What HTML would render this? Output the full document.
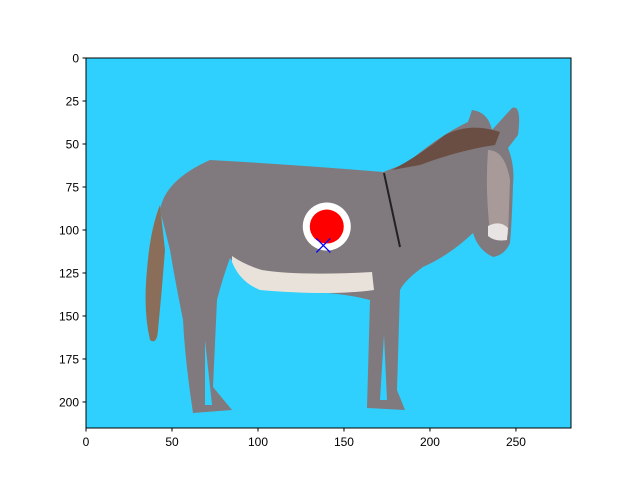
<!DOCTYPE html>
<html><head><meta charset="utf-8"><style>
html,body{margin:0;padding:0;background:#fff;}
svg{display:block;font-family:"Liberation Sans","DejaVu Sans",sans-serif;}
</style></head><body>
<svg id="chart" width="640" height="480">
<defs><clipPath id="clip"><rect x="86" y="58" width="485" height="370"/></clipPath></defs>
<g clip-path="url(#clip)">
<rect x="86" y="58" width="485" height="370" fill="#2fd0fd"/>
<path fill="#8a6e5a" d="M160,205 Q150,230 147,270 Q143,310 150,340 Q157,345 158,330 Q162,290 165,250 Z"/>
<path fill="#807a7e" d="M160,210 Q165,180 210,160 Q300,165 383,172 L407,163 Q440,135 468,122 L472,110 Q488,112 492,130 L512,108 Q522,104 518,135 L508,148 Q515,165 513,185 Q512,220 510,243 Q505,255 493,257 Q478,250 473,233 Q450,255 423,267 Q405,280 400,290 L397,390 L405,410 L367,408 L370,300 Q340,292 300,292 Q257,290 240,270 L230,258 Q222,280 217,300 L213,387 L232,410 L193,413 Q185,360 183,320 Q175,280 170,250 Z"/>
<path fill="#2fd0fd" d="M384,335 L380,400 L387,400 Z"/>
<path fill="#2fd0fd" d="M205,340 L205,405 L212,405 Z"/>
<path fill="#e8e2da" d="M232,256 Q245,265 262,270 Q300,276 372,272 L374,290 Q330,296 260,290 Q240,282 232,262 Z"/>
<path fill="#6a4e44" d="M392,170 Q420,155 445,135 Q470,122 500,132 L495,145 Q460,150 420,165 Z"/>
<path fill="#a89a98" d="M488,150 Q505,150 510,180 L508,235 L490,232 Q485,190 488,150 Z"/>
<path fill="#e8e4e4" d="M488,226 Q500,220 508,228 L507,240 Q495,242 488,236 Z"/>
<path stroke="#222" stroke-width="2" fill="none" d="M384,173 Q392,210 400,247"/>
</g>
<g id="marks"></g>
<rect x="86" y="58" width="485" height="370" fill="none" stroke="#000" stroke-width="1"/>
<g id="xticks"></g><g id="yticks"></g>
</svg>
<script>
const xTicks=[0,50,100,150,200,250];
const yTicks=[0,25,50,75,100,125,150,175,200];
const dotPoint=[140,98];
const crossPoint=[138,109];
const X0=86,Y0=58,S=485/282;
const sx=v=>X0+v*S, sy=v=>Y0+v*S;
const NS="http://www.w3.org/2000/svg";
function mk(t,a,p){const e=document.createElementNS(NS,t);for(const k in a)e.setAttribute(k,a[k]);p.appendChild(e);return e;}
const xt=document.getElementById('xticks'),yt=document.getElementById('yticks'),mg=document.getElementById('marks');
xTicks.forEach(v=>{const x=sx(v);
mk('line',{x1:x,x2:x,y1:428,y2:431.5,stroke:'#000'},xt);
const t=mk('text',{x:x,y:446,'text-anchor':'middle','font-size':'12'},xt);t.textContent=v;

});
yTicks.forEach(v=>{const y=sy(v);
mk('line',{x1:82.5,x2:86,y1:y,y2:y,stroke:'#000'},yt);
const t=mk('text',{x:79,y:y+4.5,'text-anchor':'end','font-size':'12'},yt);t.textContent=v;

});
const ring=mk('circle',{cx:sx(dotPoint[0]),cy:sy(dotPoint[1]),r:24,fill:'#fff'},mg);


const dot=mk('circle',{cx:sx(dotPoint[0]),cy:sy(dotPoint[1]),r:17,fill:'#ff0000'},mg);


const cx=sx(crossPoint[0]),cy=sy(crossPoint[1]);
const cr=mk('path',{d:`M${cx-7},${cy-7}L${cx+7},${cy+7}M${cx-7},${cy+7}L${cx+7},${cy-7}`,stroke:'#0000ff','stroke-width':1.3},mg);


</script>
</body></html>
